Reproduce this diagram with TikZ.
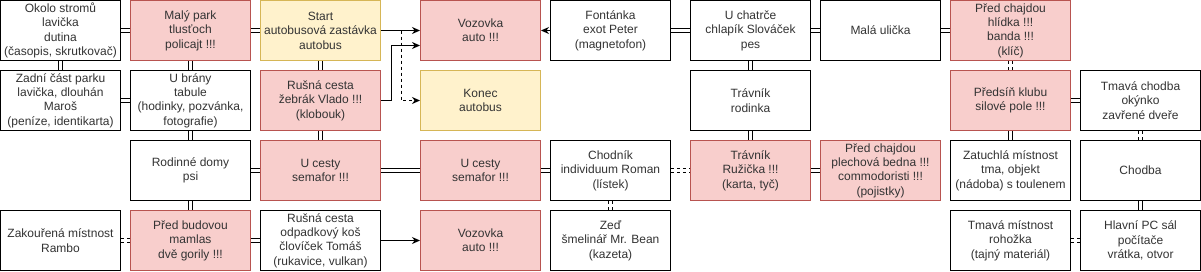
\documentclass[tikz,border=0pt]{standalone}
\usepackage{fontspec}
\setmainfont{Liberation Sans}
\usetikzlibrary{arrows.meta,positioning}
\definecolor{RedFill}{HTML}{F8CECC}
\definecolor{RedLine}{HTML}{B85450}
\definecolor{YelFill}{HTML}{FFF2CC}
\definecolor{YelLine}{HTML}{D6B656}
\definecolor{TextGray}{HTML}{333333}

\begin{document}
\begin{tikzpicture}[x=1pt, y=-1pt,
	box/.style={draw, line width=1pt, fill=white, minimum width=120pt, minimum height=60pt,
		inner sep=1pt, align=center, text=TextGray, font=\fontsize{12}{14.4}\selectfont},
	redbox/.style={box, draw=RedLine, fill=RedFill},
	yelbox/.style={box, draw=YelLine, fill=YelFill},
	link/.style={double, double distance=2.2pt, line width=1pt},
	dlink/.style={link, dash pattern=on 3pt off 3pt},
	arr/.style={line width=1pt, -{Stealth[length=8pt,width=7pt]}}]
		\useasboundingbox (-0.5,-0.5) rectangle (1200.5,270.5);
		% row 1
		\node[box] (okolo) at (60,30) {Okolo stromů\\lavička\\dutina\\(časopis, skrutkovač)};
		\node[redbox] (malypark) at (190,30) {Malý park\\tlusťoch\\policajt !!!};
		\node[yelbox] (start) at (320,30) {Start\\autobusová zastávka\\autobus};
		\node[redbox] (vozovka) at (480,30) {Vozovka\\auto !!!};
		\node[box] (fontanka) at (610,30) {Fontánka\\exot Peter\\(magnetofon)};
		\node[box] (chatrce) at (750,30) {U chatrče\\chlapík Slováček\\pes};
		\node[box] (ulicka) at (880,30) {Malá ulička};
		\node[redbox] (hlidka) at (1010,30) {Před chajdou\\hlídka !!!\\banda !!!\\(klíč)};
		% row 2
		\node[box] (zadni) at (60,100) {Zadní část parku\\lavička, dlouhán\\Maroš\\(peníze, identikarta)};
		\node[box] (brana) at (190,100) {U brány\\tabule\\(hodinky, pozvánka,\\fotografie)};
		\node[redbox] (zebrak) at (320,100) {Rušná cesta\\žebrák Vlado !!!\\(klobouk)};
		\node[yelbox] (konec) at (480,100) {Konec\\autobus};
		\node[box] (rodinka) at (750,100) {Trávník\\rodinka};
		\node[redbox] (predsin) at (1010,100) {Předsíň klubu\\silové pole !!!};
		\node[box] (tmchodba) at (1140,100) {Tmavá chodba\\okýnko\\zavřené dveře};
		% row 3
		\node[box] (domy) at (190,170) {Rodinné domy\\psi};
		\node[redbox] (semaforA) at (320,170) {U cesty\\semafor !!!};
		\node[redbox] (semaforB) at (480,170) {U cesty\\semafor !!!};
		\node[box] (chodnik) at (610,170) {Chodník\\individuum Roman\\(lístek)};
		\node[redbox] (ruzicka) at (750,170) {Trávník\\Ružička !!!\\(karta, tyč)};
		\node[redbox] (bedna) at (880,170) {Před chajdou\\plechová bedna !!!\\commodoristi !!!\\(pojistky)};
		\node[box] (zatuchla) at (1010,170) {Zatuchlá místnost\\tma, objekt\\(nádoba) s toulenem};
		\node[box] (chodba) at (1140,170) {Chodba};
		% row 4
		\node[box] (rambo) at (60,240) {Zakouřená místnost\\Rambo};
		\node[redbox] (budova) at (190,240) {Před budovou\\mamlas\\dvě gorily !!!};
		\node[box] (kos) at (320,240) {Rušná cesta\\odpadkový koš\\človíček Tomáš\\(rukavice, vulkan)};
		\node[redbox] (vozovkaB) at (480,240) {Vozovka\\auto !!!};
		\node[box] (zed) at (610,240) {Zeď\\šmelinář Mr. Bean\\(kazeta)};
		\node[box] (rohozka) at (1010,240) {Tmavá místnost\\rohožka\\(tajný materiál)};
		\node[box] (pcsal) at (1140,240) {Hlavní PC sál\\počítače\\vrátka, otvor};
		% passages
		\foreach \a/\b in {okolo/malypark, malypark/start, okolo/zadni, malypark/brana,
			zadni/brana, brana/domy, start/zebrak, zebrak/semaforA, domy/semaforA,
			domy/budova, budova/kos, semaforA/semaforB, semaforB/chodnik,
			ruzicka/bedna, rodinka/ruzicka, chatrce/rodinka, fontanka/chatrce,
			chatrce/ulicka, ulicka/hlidka, predsin/tmchodba, predsin/zatuchla, chodba/pcsal}
		\draw[link] (\a) -- (\b);
		\foreach \a/\b in {rambo/budova, chodnik/ruzicka, chodnik/zed, hlidka/predsin,
			tmchodba/chodba, rohozka/pcsal}
		\draw[dlink] (\a) -- (\b);
		% one-way
		\draw[arr] (start) -- (vozovka);
		\draw[arr] (fontanka) -- (vozovka);
		\draw[arr] (kos) -- (vozovkaB);
		\draw[arr] (zebrak.east) -- ++(10,0) |- ([yshift=-15pt]vozovka.west);
		\draw[arr, dash pattern=on 3pt off 3pt] ([xshift=20pt]start.east) |- (konec.west);
	\end{tikzpicture}
\end{document}
